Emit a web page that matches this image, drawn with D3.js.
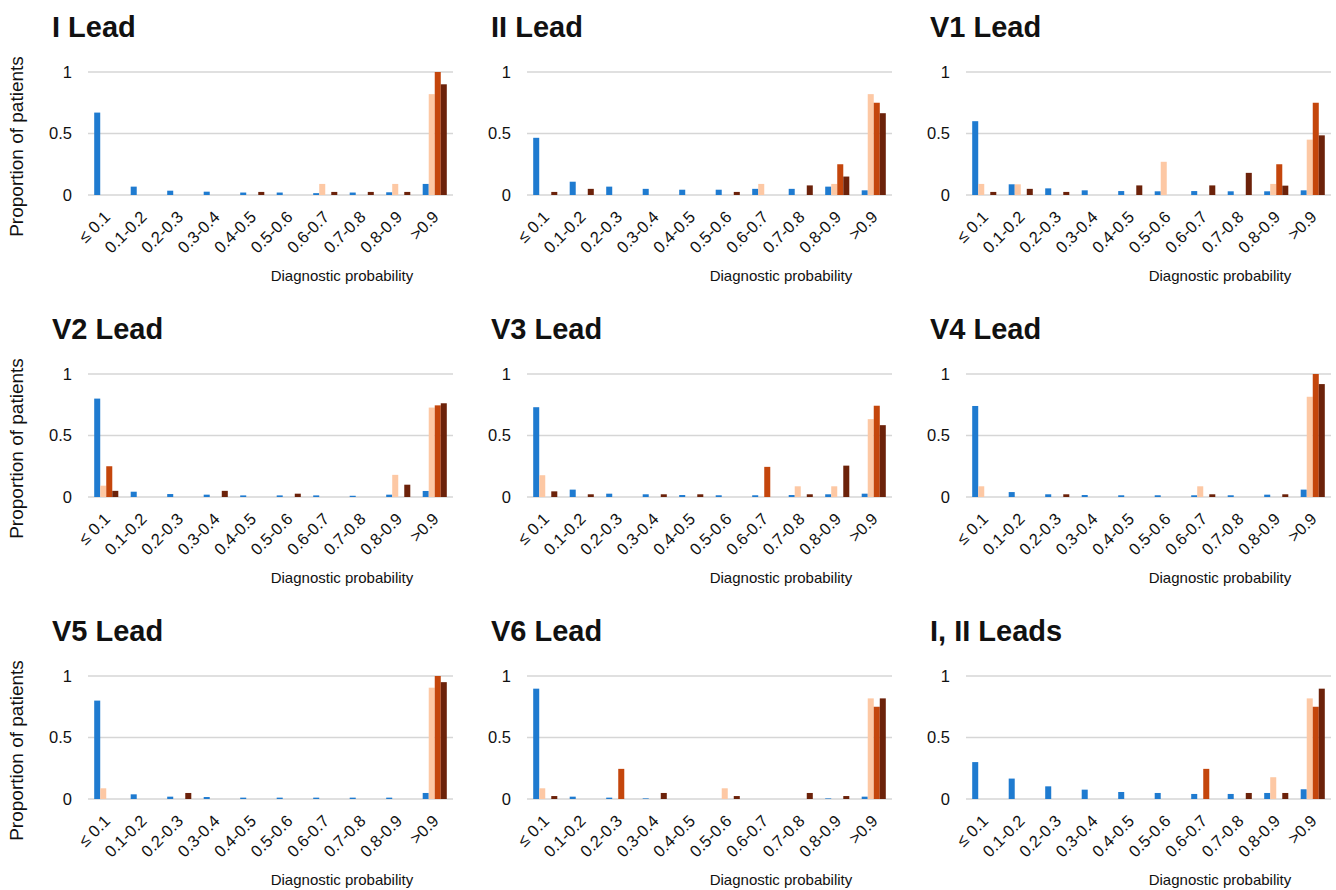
<!DOCTYPE html>
<html>
<head>
<meta charset="utf-8">
<script src="https://cdn.jsdelivr.net/npm/d3@7"></script>
<style>
  body { margin: 0; background: #fff; }
  text { font-family: Arial, "Liberation Sans", sans-serif; fill: #111; }
</style>
</head>
<body>
<svg id="chart" width="1336" height="890"></svg>
<script>
// --- DATA ---
const categories = ["≤ 0.1", "0.1-0.2", "0.2-0.3", "0.3-0.4", "0.4-0.5",
                    "0.5-0.6", "0.6-0.7", "0.7-0.8", "0.8-0.9", ">0.9"];
const seriesKeys = ["blue", "peach", "orange", "brown"];
const seriesColors = ["#1f7bd0", "#fdc8a4", "#c4460c", "#6c220a"];
const yTicks = [0, 0.5, 1];
const panelTitles = ["I Lead", "II Lead", "V1 Lead", "V2 Lead", "V3 Lead",
                     "V4 Lead", "V5 Lead", "V6 Lead", "I, II Leads"];

// one row per series (blue, peach, orange, brown), one value per category
const leadI = [
    [0.67, 0.068, 0.035, 0.027, 0.02, 0.02, 0.015, 0.02, 0.022, 0.09],
    [0, 0, 0, 0, 0, 0, 0.09, 0, 0.09, 0.82],
    [0, 0, 0, 0, 0, 0, 0, 0, 0, 1.0],
    [0, 0, 0, 0, 0.025, 0, 0.025, 0.025, 0.025, 0.9]
];
const leadII = [
    [0.465, 0.108, 0.068, 0.05, 0.043, 0.043, 0.05, 0.05, 0.068, 0.038],
    [0, 0, 0, 0, 0, 0, 0.09, 0, 0.09, 0.82],
    [0, 0, 0, 0, 0, 0, 0, 0, 0.25, 0.75],
    [0.025, 0.05, 0, 0, 0, 0.025, 0, 0.078, 0.15, 0.665]
];
const leadV1 = [
    [0.60, 0.087, 0.054, 0.038, 0.032, 0.03, 0.032, 0.03, 0.03, 0.038],
    [0.09, 0.087, 0, 0, 0, 0.27, 0, 0, 0.09, 0.45],
    [0, 0, 0, 0, 0, 0, 0, 0, 0.25, 0.75],
    [0.025, 0.05, 0.025, 0, 0.078, 0, 0.078, 0.18, 0.076, 0.485]
];
const leadV2 = [
    [0.80, 0.043, 0.024, 0.019, 0.013, 0.013, 0.013, 0.01, 0.019, 0.049],
    [0.092, 0, 0, 0, 0, 0, 0, 0, 0.18, 0.727],
    [0.25, 0, 0, 0, 0, 0, 0, 0, 0, 0.745],
    [0.05, 0, 0, 0.05, 0, 0.027, 0, 0, 0.1, 0.762]
];
const leadV3 = [
    [0.73, 0.06, 0.027, 0.022, 0.016, 0.014, 0.014, 0.016, 0.022, 0.027],
    [0.177, 0, 0, 0, 0, 0, 0, 0.087, 0.087, 0.633],
    [0, 0, 0, 0, 0, 0, 0.245, 0, 0, 0.742],
    [0.046, 0.022, 0, 0.022, 0.022, 0, 0, 0.022, 0.255, 0.584]
];
const leadV4 = [
    [0.74, 0.04, 0.022, 0.016, 0.014, 0.014, 0.014, 0.014, 0.019, 0.06],
    [0.087, 0, 0, 0, 0, 0, 0.087, 0, 0, 0.815],
    [0, 0, 0, 0, 0, 0, 0, 0, 0, 1.0],
    [0, 0, 0.022, 0, 0, 0, 0.022, 0, 0.022, 0.918]
];
const leadV5 = [
    [0.80, 0.038, 0.019, 0.016, 0.011, 0.011, 0.011, 0.011, 0.011, 0.049],
    [0.087, 0, 0, 0, 0, 0, 0, 0, 0, 0.905],
    [0, 0, 0, 0, 0, 0, 0, 0, 0, 1.0],
    [0, 0, 0.049, 0, 0, 0, 0, 0, 0, 0.95]
];
const leadV6 = [
    [0.897, 0.019, 0.011, 0.005, 0, 0, 0, 0, 0.005, 0.019],
    [0.087, 0, 0, 0, 0, 0.087, 0, 0, 0, 0.818],
    [0, 0, 0.245, 0, 0, 0, 0, 0, 0, 0.75],
    [0.024, 0, 0, 0.049, 0, 0.024, 0, 0.049, 0.024, 0.818]
];
const leadI_II = [
    [0.30, 0.166, 0.103, 0.076, 0.057, 0.049, 0.041, 0.041, 0.049, 0.079],
    [0, 0, 0, 0, 0, 0, 0, 0, 0.177, 0.818],
    [0, 0, 0, 0, 0, 0, 0.245, 0, 0, 0.75],
    [0, 0, 0, 0, 0, 0, 0, 0.049, 0.049, 0.897]
];
const panelData = [leadI, leadII, leadV1, leadV2, leadV3, leadV4, leadV5, leadV6, leadI_II];

// --- LAYOUT ---
const colX = [88, 527, 966];      // left edge of plot area per column
const rowY = [72, 374, 676];      // y of the "1" gridline per row
const plotW = 365, plotH = 123;

const svg = d3.select("#chart");
const color = d3.scaleOrdinal(seriesKeys, seriesColors);

const x0 = d3.scaleBand().domain(categories).range([0, plotW]).padding(0);
const groupW = x0.bandwidth() * 0.66;
const x1 = d3.scaleBand().domain(seriesKeys).range([0, groupW]).padding(0);
const y = d3.scaleLinear().domain([0, 1]).range([plotH, 0]);

panelData.forEach((lead, i) => {
    const col = i % 3, row = Math.floor(i / 3);
    const g = svg.append("g").attr("transform", `translate(${colX[col]},${rowY[row]})`);

    // title
    g.append("text").attr("x", -36).attr("y", -35)
        .style("font-size", "29px").style("font-weight", "bold")
        .text(panelTitles[i]);

    // gridlines + y tick labels
    g.selectAll(".grid").data(yTicks).join("line").attr("class", "grid")
        .attr("x1", 0).attr("x2", plotW)
        .attr("y1", d => y(d)).attr("y2", d => y(d))
        .attr("stroke", "#d6d6d6").attr("stroke-width", 1.6);
    g.selectAll(".ytick").data(yTicks).join("text").attr("class", "ytick")
        .attr("x", -16).attr("y", d => y(d)).attr("dy", "0.35em")
        .attr("text-anchor", "end").style("font-size", "16.5px")
        .text(d => d3.format("~g")(d));

    // bars
    const flat = [];
    lead.forEach((vals, si) => vals.forEach((v, ci) => {
        if (v > 0) flat.push({ cat: categories[ci], key: seriesKeys[si], value: v });
    }));
    g.selectAll(".bar").data(flat).join("rect").attr("class", "bar")
        .attr("x", d => x0(d.cat) + (x0.bandwidth() - groupW) / 2 + x1(d.key))
        .attr("width", x1.bandwidth())
        .attr("y", d => y(d.value))
        .attr("height", d => plotH - y(d.value))
        .attr("fill", d => color(d.key));

    // x tick labels, rotated
    g.selectAll(".xtick").data(categories).join("text").attr("class", "xtick")
        .attr("transform", d => `translate(${x0(d) + x0.bandwidth() / 2 + 5},${plotH + 23}) rotate(-45)`)
        .attr("text-anchor", "end").style("font-size", "16.5px")
        .text(d => d);

    // x axis title
    g.append("text").attr("x", 254).attr("y", plotH + 86)
        .attr("text-anchor", "middle").style("font-size", "15px")
        .text("Diagnostic probability");

    // y axis title (left column only)
    if (col === 0) {
        g.append("text")
            .attr("transform", `translate(${23 - colX[col]},${plotH / 2 + 13}) rotate(-90)`)
            .attr("text-anchor", "middle").style("font-size", "19px")
            .text("Proportion of patients");
    }
});
</script>
</body>
</html>
